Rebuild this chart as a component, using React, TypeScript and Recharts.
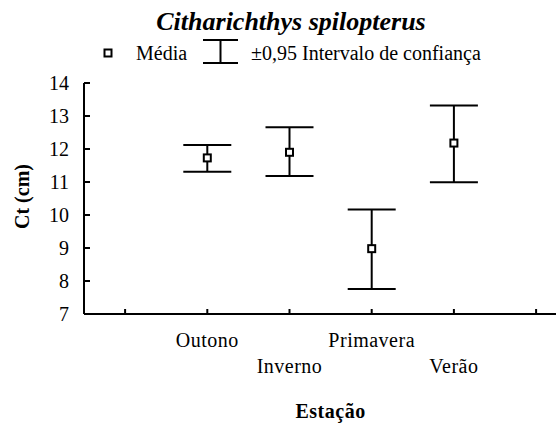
import React from 'react';
import { ComposedChart, Scatter, XAxis, YAxis, ErrorBar, Legend } from 'recharts';

const categories = ['Outono', 'Inverno', 'Primavera', 'Verão'];
const categoryPositions = [1, 2, 3, 4];
const means = [11.73, 11.9, 8.98, 12.18];
const lows = [11.31, 11.18, 7.76, 10.99];
const highs = [12.12, 12.66, 10.17, 13.32];
const yTicks = [7, 8, 9, 10, 11, 12, 13, 14];
const xTicks = [0, 1, 2, 3, 4, 5];

const title = 'Citharichthys spilopterus';
const legendMean = 'Média';
const legendCI = '±0,95 Intervalo de confiança';
const xLabel = 'Estação';
const yLabel = 'Ct (cm)';

const data = categories.map((c, i) => ({
  name: c,
  x: categoryPositions[i],
  y: means[i],
  err: [means[i] - lows[i], highs[i] - means[i]],
}));

const FONT = '"Liberation Serif", "Times New Roman", serif';

const Marker = (props: any) => {
  const { cx, cy } = props;
  if (cx == null || cy == null) return null;
  return <rect x={cx - 3.5} y={cy - 3.5} width={7} height={7} fill="#fff" stroke="#000" strokeWidth={2} />;
};

const XTick = (props: any) => {
  const { x, y, payload } = props;
  const idx = categoryPositions.indexOf(payload.value);
  if (idx < 0) return null;
  const dy = idx % 2 === 0 ? 33 : 59;
  return (
    <text x={x} y={y + dy} textAnchor="middle" fontFamily={FONT} fontSize={20} letterSpacing={0.5} fill="#000">
      {categories[idx]}
    </text>
  );
};

const LegendContent = () => (
  <svg width={556} height={75} style={{ display: 'block' }}>
    <text x={291} y={30} textAnchor="middle" fontFamily={FONT} fontSize={26} fontWeight="bold" fontStyle="italic" fill="#000">
      {title}
    </text>
    <rect x={104.5} y={49.5} width={7} height={7} fill="#fff" stroke="#000" strokeWidth={2} />
    <text x={136} y={60} fontFamily={FONT} fontSize={20} fill="#000">{legendMean}</text>
    <line x1={203} y1={40} x2={238} y2={40} stroke="#000" strokeWidth={2} />
    <line x1={220.5} y1={40} x2={220.5} y2={63} stroke="#000" strokeWidth={2} />
    <line x1={203} y1={63} x2={238} y2={63} stroke="#000" strokeWidth={2} />
    <text x={251} y={60} fontFamily={FONT} fontSize={20} fill="#000">{legendCI}</text>
  </svg>
);

export default function App() {
  return (
    <div style={{ position: 'absolute', left: 0, top: 0, width: 556, height: 429, overflow: 'hidden', background: '#fff' }}>
      <ComposedChart
        width={580}
        height={429}
        data={data}
        margin={{ top: 83, right: 2.8, bottom: 0, left: 24 }}
      >
        <XAxis
          type="number"
          dataKey="x"
          domain={[-0.5, 5.5]}
          ticks={xTicks}
          interval={0}
          allowDataOverflow
          height={115}
          axisLine={{ stroke: '#000', strokeWidth: 2 }}
          tickLine={{ stroke: '#000', strokeWidth: 2 }}
          tickSize={-5}
          tickMargin={5}
          tick={<XTick />}
          label={{
            content: (p: any) => {
              const vb = p.viewBox;
              return (
                <text x={vb.x + vb.width / 2} y={vb.y + 104} textAnchor="middle" fontFamily={FONT} fontSize={20} letterSpacing={0.5} fontWeight="bold" fill="#000">
                  {xLabel}
                </text>
              );
            },
          }}
        />
        <YAxis
          type="number"
          dataKey="y"
          domain={[7, 14]}
          ticks={yTicks}
          interval={0}
          allowDataOverflow
          width={60}
          axisLine={{ stroke: '#000', strokeWidth: 2 }}
          tickLine={{ stroke: '#000', strokeWidth: 2 }}
          tickSize={-6}
          tickMargin={21}
          tick={{ fill: '#000', fontFamily: FONT, fontSize: 20 }}
          label={{
            content: (p: any) => {
              const vb = p.viewBox;
              const cx = vb.x + 5;
              const cy = vb.y + vb.height / 2 - 2;
              return (
                <text x={cx} y={cy} transform={`rotate(-90, ${cx}, ${cy})`} textAnchor="middle" fontFamily={FONT} fontSize={20} fontWeight="bold" fill="#000">
                  {yLabel}
                </text>
              );
            },
          }}
        />
        <Legend
          verticalAlign="middle"
          align="center"
          layout="horizontal"
          content={<LegendContent />}
          wrapperStyle={{ position: 'absolute', left: 0, top: 0, width: 556, height: 75 }}
        />
        <Scatter dataKey="y" shape={<Marker />} isAnimationActive={false} legendType="none">
          <ErrorBar dataKey="err" direction="y" width={24} stroke="#000" strokeWidth={2} isAnimationActive={false} />
        </Scatter>
      </ComposedChart>
    </div>
  );
}
